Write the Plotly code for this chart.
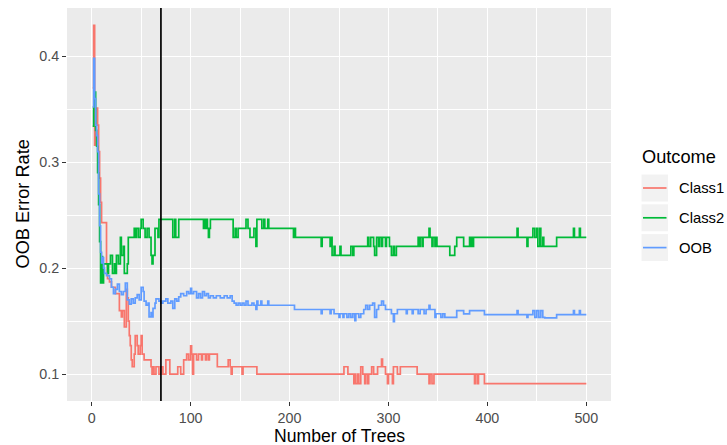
import plotly.graph_objects as go

# ---------------- data ----------------
class1_trees = [1, 2, 3, 4, 5, 6, 7, 8, 9, 10, 15, 16, 18, 20, 24, 28, 30, 31, 33, 35, 36, 37, 38, 39, 40, 41,
                43, 44, 46, 47, 49, 50, 51, 53, 60, 61, 62, 63, 65, 68, 70, 72, 75, 79, 87, 90, 93, 96, 98, 100,
                101, 102, 103, 106, 108, 111, 112, 115, 116, 118, 119, 127, 138, 140, 141, 142, 152, 153, 167,
                255, 259, 265, 266, 267, 269, 270, 272, 274, 276, 277, 279, 280, 283, 285, 289, 293, 294, 297,
                299, 300, 304, 305, 309, 312, 329, 341, 342, 344, 346, 387, 388, 390, 391, 397, 500]
class1_err = [0.37, 0.429, 0.316, 0.351, 0.351, 0.335, 0.31, 0.285, 0.262, 0.243, 0.204, 0.19, 0.187, 0.182,
              0.176, 0.16, 0.154, 0.16, 0.1445, 0.18, 0.172, 0.15, 0.1363, 0.127, 0.1135, 0.107,
              0.119, 0.1363, 0.127, 0.119, 0.127, 0.1363, 0.119, 0.1135, 0.107, 0.1, 0.107, 0.1, 0.107, 0.1,
              0.107, 0.1, 0.1135, 0.1, 0.107, 0.1, 0.1135, 0.119, 0.1135, 0.1267,
              0.119, 0.1, 0.119, 0.1135, 0.119, 0.1135, 0.119, 0.1135, 0.119, 0.1135, 0.119, 0.107, 0.1135,
              0.107, 0.1, 0.107, 0.1, 0.107, 0.1,
              0.107, 0.1, 0.0911, 0.1, 0.0911, 0.1, 0.0911, 0.107, 0.1, 0.0911, 0.1, 0.0911, 0.1, 0.107, 0.1,
              0.107, 0.1143, 0.107, 0.1,
              0.0911, 0.1, 0.0911, 0.107, 0.1, 0.107, 0.1, 0.0911, 0.1, 0.0911, 0.1, 0.0911, 0.1, 0.0911, 0.1,
              0.0911, 0.0911]

class2_trees = [1, 2, 3, 4, 5, 6, 7, 8, 9, 10, 11, 12, 16, 17, 19, 21, 23, 24, 25, 27, 29, 30, 32, 33, 36, 37,
                43, 44, 45, 47, 49, 50, 52, 54, 56, 58, 60, 61, 62, 64, 67, 68, 82, 84, 85, 88, 113, 114, 115,
                116, 117, 118, 119, 120, 143, 145, 146, 148, 156, 158, 160, 164, 166, 167, 172, 174, 175, 178,
                179, 204, 205, 206, 232, 233, 241, 242, 243, 245, 246, 251, 252, 262, 264, 265, 279, 280, 282,
                285, 286, 288, 290, 291, 293, 294, 297, 298, 301, 303, 305, 306, 308, 330, 331, 332, 334, 335,
                341, 342, 344, 345, 347, 348, 349, 362, 367, 369, 376, 382, 383, 384, 385, 386, 430, 431, 440,
                441, 446, 448, 450, 451, 453, 454, 456, 457, 470, 487, 488, 493, 494, 500]
class2_err = [0.334, 0.352, 0.366, 0.33, 0.315, 0.29, 0.26, 0.225, 0.186, 0.211, 0.186, 0.204, 0.195, 0.204,
              0.212, 0.195, 0.204, 0.195, 0.212, 0.204, 0.229, 0.212, 0.2205, 0.195, 0.204, 0.229,
              0.2375, 0.229, 0.2375, 0.229, 0.2375, 0.246, 0.2375, 0.229, 0.2375, 0.229, 0.212, 0.204, 0.212,
              0.2375, 0.229, 0.246, 0.229, 0.246, 0.229, 0.246, 0.2375, 0.246, 0.2375,
              0.246, 0.2375, 0.229, 0.2375, 0.246, 0.229, 0.2375, 0.229, 0.2375, 0.246, 0.2375, 0.229, 0.2375,
              0.2205, 0.246, 0.2375, 0.246, 0.2375, 0.246,
              0.2375, 0.229, 0.2375, 0.229, 0.2205, 0.229, 0.2205, 0.229, 0.212, 0.2205, 0.212, 0.2205, 0.212,
              0.2205, 0.212, 0.2205, 0.229, 0.2205, 0.229,
              0.2205, 0.212, 0.229, 0.2205, 0.229, 0.2205, 0.229, 0.2205, 0.229, 0.2205, 0.212, 0.2205, 0.212,
              0.2205, 0.229, 0.2205, 0.229, 0.2205, 0.229,
              0.2375, 0.229, 0.2205, 0.229, 0.2205, 0.229, 0.2205, 0.212, 0.2205, 0.229, 0.2205, 0.229, 0.2205,
              0.229, 0.2205, 0.229, 0.2375, 0.229, 0.2205,
              0.229, 0.2375, 0.229, 0.2375, 0.2205, 0.2375, 0.2205, 0.229, 0.2205, 0.229, 0.2375, 0.229,
              0.2375, 0.229, 0.229]

oob_trees = [1, 2, 3, 4, 5, 6, 7, 8, 9, 10, 11, 12, 13, 15, 18, 20, 22, 24, 26, 28, 30, 32, 34, 36, 38, 40, 42,
             44, 46, 48, 50, 52, 53, 55, 57, 58, 60, 61, 62, 64, 65, 68, 70, 72, 75, 77, 80, 82, 84, 86, 88, 90,
             93, 96, 98, 100, 101, 103, 106, 108, 110, 112, 114, 116, 118, 120, 123, 126, 130, 134, 137, 140,
             142, 144, 146, 148, 150, 152, 154, 156, 158, 162, 164, 166, 167, 168, 171, 172, 178, 179, 205,
             232, 233, 241, 242, 245, 250, 251, 254, 255, 258, 260, 262, 264, 266, 267, 270, 272, 275, 277,
             279, 281, 284, 286, 288, 290, 293, 295, 297, 303, 305, 306, 309, 318, 319, 324, 325, 330, 332,
             336, 338, 341, 342, 347, 348, 353, 355, 357, 369, 376, 382, 397, 430, 431, 440, 441, 446, 448,
             450, 452, 454, 456, 458, 470, 487, 488, 493, 494, 500]
oob_err = [0.352, 0.398, 0.36, 0.335, 0.325, 0.31, 0.27, 0.24, 0.215, 0.205, 0.21, 0.2, 0.195, 0.193, 0.19,
           0.182, 0.176, 0.18, 0.185, 0.178, 0.175, 0.178, 0.186, 0.17, 0.166, 0.171, 0.167,
           0.172, 0.175, 0.17, 0.182, 0.178, 0.169, 0.165, 0.167, 0.154, 0.158, 0.154, 0.162, 0.167, 0.171,
           0.169, 0.167, 0.169, 0.171, 0.167, 0.169, 0.162, 0.171, 0.169, 0.173, 0.176,
           0.174, 0.178, 0.176, 0.181, 0.176, 0.178, 0.172, 0.176, 0.172, 0.178, 0.174, 0.176, 0.172, 0.174,
           0.172, 0.174, 0.172, 0.174, 0.172, 0.174,
           0.169, 0.167, 0.165, 0.167, 0.165, 0.167, 0.165, 0.169, 0.165, 0.167, 0.165, 0.161, 0.169, 0.165,
           0.169, 0.165, 0.169, 0.165, 0.161,
           0.157, 0.161, 0.157, 0.161, 0.157, 0.1536, 0.157, 0.1536, 0.157, 0.1536, 0.157, 0.1536, 0.157,
           0.1505, 0.157, 0.1536, 0.157, 0.161, 0.165,
           0.161, 0.165, 0.167, 0.1536, 0.161, 0.165, 0.169, 0.165, 0.161, 0.157, 0.1495, 0.157, 0.161,
           0.157, 0.161, 0.157, 0.161, 0.157, 0.161,
           0.157, 0.161, 0.165, 0.161, 0.1536, 0.157, 0.1536, 0.157, 0.1536, 0.16, 0.1569, 0.16, 0.1562,
           0.16, 0.1562, 0.1536, 0.1562, 0.16, 0.1536,
           0.16, 0.1536, 0.16, 0.1536, 0.1531, 0.1562, 0.16, 0.1562, 0.16, 0.1562, 0.1562]

series_names = ["Class1", "Class2", "OOB"]
cutoff_tree = 70
x_ticks = [0, 100, 200, 300, 400, 500]
y_ticks = [0.1, 0.2, 0.3, 0.4]
legend_title = "Outcome"
x_title = "Number of Trees"
y_title = "OOB Error Rate"

# ---------------- styling ----------------
colors = ["#F8766D", "#00BA38", "#619CFF"]
FONT = "Liberation Sans, Arial, Helvetica, sans-serif"
W, H = 727, 445
L, R, T, B = 67, 116, 8, 44
PW, PH = W - L - R, H - T - B


def pxx(p):
    return (p - L) / PW


def pxy(p):
    return (H - B - p) / PH


fig = go.Figure()
for name, xs, ys, c in zip(series_names,
                           [class1_trees, class2_trees, oob_trees],
                           [class1_err, class2_err, oob_err], colors):
    fig.add_trace(go.Scatter(x=xs, y=ys, mode="lines", name=name, showlegend=False,
                             line=dict(color=c, width=1.7, shape="hv")))

axis_common = dict(
    showgrid=True, gridcolor="white", gridwidth=1.4, zeroline=False, showline=False,
    ticks="outside", ticklen=4, tickwidth=1.1, tickcolor="#333333",
    tickfont=dict(family=FONT, size=14.3, color="#4D4D4D"),
)
fig.update_xaxes(range=[-24.95, 524.95], tickvals=x_ticks, ticktext=[str(v) for v in x_ticks],
                 minor=dict(dtick=50, tick0=0, showgrid=True, gridcolor="white", gridwidth=0.7, ticks=""),
                 **axis_common)
fig.update_yaxes(range=[0.0747, 0.4454], tickvals=y_ticks, ticktext=[f"{v:.1f}" for v in y_ticks],
                 minor=dict(dtick=0.05, tick0=0.05, showgrid=True, gridcolor="white", gridwidth=0.7,
                            ticks=""),
                 **axis_common)

shapes = [dict(type="line", xref="x", yref="paper", x0=cutoff_tree, x1=cutoff_tree, y0=0, y1=1,
               line=dict(color="black", width=1.7), layer="above")]
annotations = [
    dict(text=x_title, xref="paper", yref="paper", x=0.5, y=pxy(435.5), xanchor="center", yanchor="middle",
         showarrow=False, borderpad=0, font=dict(family=FONT, size=17.6, color="black")),
    dict(text=y_title, xref="paper", yref="paper", x=pxx(22), y=0.5, xanchor="center", yanchor="middle",
         textangle=-90, showarrow=False, font=dict(family=FONT, size=18.2, color="black")),
    dict(text=legend_title, xref="paper", yref="paper", x=pxx(640), y=pxy(157), xanchor="left",
         yanchor="middle", showarrow=False, font=dict(family=FONT, size=18.2, color="black")),
]
row_centers = [188, 217.8, 247.6]
for name, c, cy in zip(series_names, colors, row_centers):
    shapes.append(dict(type="rect", xref="paper", yref="paper", x0=pxx(641), x1=pxx(668.5),
                       y0=pxy(cy + 14), y1=pxy(cy - 14), fillcolor="#F2F2F2",
                       line=dict(color="white", width=1), layer="above"))
    shapes.append(dict(type="line", xref="paper", yref="paper", x0=pxx(643), x1=pxx(666.5),
                       y0=pxy(cy), y1=pxy(cy), line=dict(color=c, width=1.7), layer="above"))
    annotations.append(dict(text=name, xref="paper", yref="paper", x=pxx(677), y=pxy(cy), xanchor="left",
                            yanchor="middle", showarrow=False,
                            font=dict(family=FONT, size=14.8, color="black")))

fig.update_layout(
    width=W, height=H, margin=dict(l=L, r=R, t=T, b=B, pad=0),
    paper_bgcolor="white", plot_bgcolor="#EBEBEB",
    shapes=shapes, annotations=annotations, showlegend=False,
    font=dict(family=FONT),
)
fig.write_html("out.html")
